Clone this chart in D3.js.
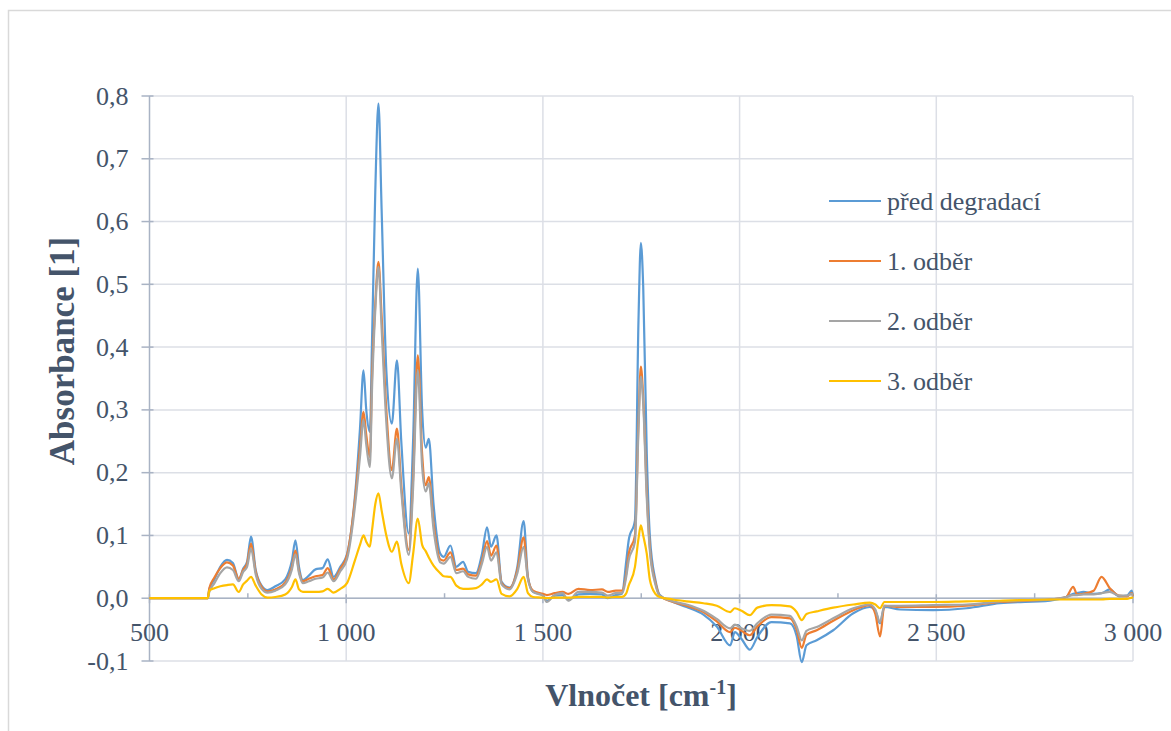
<!DOCTYPE html>
<html lang="cs">
<head>
<meta charset="UTF-8">
<title>Absorbance</title>
<script src="https://d3js.org/d3.v7.min.js"></script>
<style>
    body { margin: 0; background: #fff; }
    svg { display: block; }
    svg text { font-family: "Liberation Serif", "Tinos", "Times New Roman", "DejaVu Serif", serif; fill: #44546a; }
    .tick-label { font-size: 26px; }
    .axis-title { font-size: 32px; font-weight: bold; }
    .legend-text { font-size: 26px; }
</style>
</head>
<body>
<svg id="chart" width="1171" height="731"></svg>
<script>
// wavenumbers [cm-1]
const wavenumbers = [500, 648, 652, 665, 680, 697, 712, 727, 738, 748, 758, 770, 785, 800, 820, 845, 862, 871, 880, 890,
    905, 922, 940, 953, 968, 985, 1002, 1022, 1035, 1044, 1051, 1060, 1066, 1074, 1082, 1090, 1102, 1116, 1129, 1140,
    1159, 1170, 1182, 1193, 1202, 1210, 1222, 1239, 1248, 1265, 1280, 1297, 1310, 1330, 1345, 1358, 1368, 1382, 1395, 1415,
    1435, 1451, 1462, 1475, 1500, 1510, 1530, 1550, 1565, 1590, 1620, 1650, 1665, 1685, 1701, 1712, 1718, 1734, 1743, 1749,
    1755, 1764, 1772, 1786, 1797, 1831, 1865, 1908, 1942, 1976, 1988, 2005, 2026, 2045, 2081, 2128, 2145, 2158, 2170, 2196,
    2238, 2289, 2331, 2345, 2357, 2368, 2408, 2492, 2577, 2662, 2789, 2830, 2848, 2858, 2874, 2900, 2920, 2941, 2965, 2985,
    2997, 3000];

const predDegradaci = [0, 0, 0.014, 0.030, 0.050, 0.061, 0.056, 0.030, 0.047, 0.058, 0.098, 0.045, 0.020, 0.013, 0.019, 0.030, 0.060, 0.092, 0.050, 0.029,
    0.036, 0.046, 0.048, 0.062, 0.034, 0.050, 0.070, 0.161, 0.270, 0.363, 0.300, 0.265, 0.420, 0.650, 0.788, 0.620, 0.363, 0.278, 0.379, 0.250,
    0.103, 0.250, 0.525, 0.300, 0.240, 0.254, 0.150, 0.071, 0.066, 0.084, 0.050, 0.058, 0.042, 0.040, 0.070, 0.113, 0.082, 0.100, 0.026, 0.017,
    0.050, 0.123, 0.034, 0.010, 0.005, -0.004, 0.004, 0.005, -0.003, 0.006, 0.007, 0.006, 0.000, 0.005, 0.007, 0.060, 0.092, 0.124, 0.443, 0.566,
    0.496, 0.231, 0.098, 0.029, 0.005, -0.006, -0.014, -0.026, -0.045, -0.075, -0.054, -0.065, -0.082, -0.062, -0.038, -0.040, -0.060, -0.102, -0.075, -0.067,
    -0.051, -0.024, -0.014, -0.020, -0.040, -0.014, -0.018, -0.019, -0.016, -0.008, -0.004, 0.002, 0.007, 0.008, 0.010, 0.007, 0.008, 0.014, 0.003, 0.004,
    0.012, 0.003];

const odber1 = [0, 0, 0.016, 0.033, 0.048, 0.057, 0.052, 0.031, 0.045, 0.055, 0.087, 0.042, 0.018, 0.011, 0.014, 0.025, 0.050, 0.076, 0.043, 0.027,
    0.031, 0.035, 0.037, 0.048, 0.030, 0.047, 0.068, 0.155, 0.240, 0.297, 0.260, 0.225, 0.360, 0.470, 0.536, 0.450, 0.300, 0.204, 0.270, 0.180,
    0.077, 0.190, 0.387, 0.230, 0.180, 0.193, 0.120, 0.062, 0.060, 0.073, 0.045, 0.047, 0.038, 0.036, 0.060, 0.091, 0.068, 0.084, 0.024, 0.016,
    0.045, 0.097, 0.032, 0.012, 0.007, 0.005, 0.008, 0.010, 0.007, 0.015, 0.013, 0.014, 0.010, 0.012, 0.012, 0.040, 0.070, 0.100, 0.280, 0.369,
    0.320, 0.170, 0.080, 0.025, 0.004, -0.006, -0.012, -0.022, -0.037, -0.054, -0.047, -0.052, -0.059, -0.045, -0.030, -0.032, -0.050, -0.079, -0.058, -0.051,
    -0.036, -0.019, -0.011, -0.025, -0.061, -0.012, -0.014, -0.014, -0.012, -0.006, -0.002, 0.002, 0.018, 0.006, 0.007, 0.012, 0.034, 0.016, 0.004, 0.003,
    0.008, 0.003];

const odber2 = [0, 0, 0.010, 0.024, 0.040, 0.049, 0.045, 0.027, 0.042, 0.050, 0.079, 0.038, 0.015, 0.009, 0.012, 0.022, 0.046, 0.070, 0.040, 0.024,
    0.027, 0.031, 0.033, 0.041, 0.027, 0.043, 0.062, 0.145, 0.225, 0.284, 0.245, 0.209, 0.340, 0.460, 0.528, 0.430, 0.280, 0.191, 0.254, 0.170,
    0.069, 0.175, 0.363, 0.210, 0.170, 0.183, 0.110, 0.057, 0.055, 0.066, 0.040, 0.043, 0.034, 0.031, 0.055, 0.082, 0.060, 0.073, 0.022, 0.014,
    0.040, 0.082, 0.030, 0.010, 0.004, -0.006, 0.005, 0.008, -0.004, 0.010, 0.010, 0.009, 0.004, 0.008, 0.008, 0.035, 0.060, 0.090, 0.270, 0.353,
    0.310, 0.160, 0.075, 0.022, 0.004, -0.005, -0.010, -0.020, -0.033, -0.048, -0.042, -0.048, -0.052, -0.040, -0.026, -0.028, -0.045, -0.067, -0.052, -0.046,
    -0.032, -0.016, -0.010, -0.018, -0.038, -0.012, -0.012, -0.011, -0.010, -0.005, -0.002, 0.002, 0.005, 0.005, 0.006, 0.006, 0.008, 0.010, 0.004, 0.004,
    0.007, 0.004];

const odber3 = [0, 0, 0.012, 0.016, 0.019, 0.021, 0.022, 0.010, 0.022, 0.028, 0.034, 0.020, 0.006, 0.001, 0.002, 0.006, 0.018, 0.030, 0.014, 0.010,
    0.010, 0.010, 0.011, 0.015, 0.009, 0.015, 0.024, 0.060, 0.085, 0.100, 0.090, 0.082, 0.110, 0.150, 0.167, 0.140, 0.100, 0.074, 0.090, 0.055,
    0.024, 0.070, 0.127, 0.085, 0.075, 0.065, 0.052, 0.040, 0.035, 0.034, 0.020, 0.015, 0.015, 0.016, 0.022, 0.030, 0.026, 0.030, 0.007, 0.003,
    0.015, 0.034, 0.008, 0.002, 0.001, 0.000, 0.001, 0.001, 0.001, 0.002, 0.002, 0.002, 0.001, 0.002, 0.002, 0.008, 0.020, 0.050, 0.095, 0.116,
    0.100, 0.071, 0.029, 0.007, 0.002, -0.002, -0.005, -0.008, -0.012, -0.022, -0.016, -0.020, -0.027, -0.015, -0.011, -0.013, -0.022, -0.035, -0.025, -0.021,
    -0.015, -0.010, -0.007, -0.010, -0.016, -0.006, -0.006, -0.006, -0.005, -0.004, -0.002, -0.002, -0.002, -0.002, -0.002, -0.002, -0.002, -0.001, -0.001, -0.001,
    0.001, 0.000];

const seriesNames = ["před degradací", "1. odběr", "2. odběr", "3. odběr"];
const seriesColors = ["#5b9bd5", "#ed7d31", "#a5a5a5", "#ffc000"];
const seriesValues = [predDegradaci, odber1, odber2, odber3];

const xTicks = [500, 1000, 1500, 2000, 2500, 3000];
const xMinorTicks = [750, 1250, 1750, 2250, 2750];
const yTicks = [-0.1, 0, 0.1, 0.2, 0.3, 0.4, 0.5, 0.6, 0.7, 0.8];

const svg = d3.select("#chart");
const margin = {top: 96, right: 38, bottom: 70, left: 149.5};
const width = 1133 - margin.left;
const height = 661 - margin.top;

// outer chart border
svg.append("rect")
    .attr("x", 8.5).attr("y", 10.5)
    .attr("width", 1200).attr("height", 800)
    .attr("fill", "none").attr("stroke", "#d9d9d9").attr("stroke-width", 1.5);

const x = d3.scaleLinear().domain([500, 3000]).range([0, width]);
const y = d3.scaleLinear().domain([-0.1, 0.8]).range([height, 0]);

const g = svg.append("g").attr("transform", `translate(${margin.left},${margin.top})`);

const fmtX = d => String(d).replace(/(\d)(\d{3})$/, "$1 $2");
const fmtY = d => d.toFixed(1).replace(".", ",");

// grid
g.append("g").selectAll("line").data(yTicks).join("line")
    .attr("x1", 0).attr("x2", width)
    .attr("y1", d => y(d)).attr("y2", d => y(d))
    .attr("stroke", "#dcdfe6").attr("stroke-width", 1.5);
g.append("g").selectAll("line").data(xTicks.slice(1)).join("line")
    .attr("x1", d => x(d)).attr("x2", d => x(d))
    .attr("y1", 0).attr("y2", height)
    .attr("stroke", "#dcdfe6").attr("stroke-width", 1.5);

// y axis
g.append("line").attr("x1", 0).attr("x2", 0).attr("y1", 0).attr("y2", height)
    .attr("stroke", "#a9b3c4").attr("stroke-width", 1.5);
g.append("g").selectAll("line").data(yTicks).join("line")
    .attr("x1", -8).attr("x2", 4)
    .attr("y1", d => y(d)).attr("y2", d => y(d))
    .attr("stroke", "#a9b3c4").attr("stroke-width", 1.5);
g.append("g").selectAll("text").data(yTicks).join("text")
    .attr("class", "tick-label")
    .attr("x", -21).attr("y", d => y(d)).attr("dy", "0.33em")
    .attr("text-anchor", "end")
    .text(fmtY);

// x axis at zero
g.append("line").attr("x1", 0).attr("x2", width).attr("y1", y(0)).attr("y2", y(0))
    .attr("stroke", "#a9b3c4").attr("stroke-width", 1.5);
g.append("g").selectAll("line").data(xTicks).join("line")
    .attr("x1", d => x(d)).attr("x2", d => x(d))
    .attr("y1", y(0) - 4).attr("y2", y(0) + 5)
    .attr("stroke", "#a9b3c4").attr("stroke-width", 1.5);
g.append("g").selectAll("line").data(xMinorTicks).join("line")
    .attr("x1", d => x(d)).attr("x2", d => x(d))
    .attr("y1", y(0) - 5).attr("y2", y(0))
    .attr("stroke", "#a9b3c4").attr("stroke-width", 1.5);
g.append("g").selectAll("text").data(xTicks).join("text")
    .attr("class", "tick-label")
    .attr("x", d => x(d)).attr("y", y(0) + 43)
    .attr("text-anchor", "middle")
    .text(fmtX);

// series (drawn over the axis and its labels, like the original)
const line = d3.line()
    .x((d, i) => x(wavenumbers[i]))
    .y(d => y(d))
    .curve(d3.curveMonotoneX);

seriesValues.forEach((vals, i) => {
    g.append("path")
        .datum(vals)
        .attr("fill", "none")
        .attr("stroke", seriesColors[i])
        .attr("stroke-width", 2.2)
        .attr("stroke-linejoin", "round")
        .attr("d", line);
});

// axis titles
svg.append("text")
    .attr("class", "axis-title")
    .attr("font-size", "35px")
    .attr("transform", "translate(74,351) rotate(-90)")
    .attr("text-anchor", "middle")
    .style("font-size", "35px")
    .text("Absorbance [1]");

const xt = svg.append("text")
    .attr("class", "axis-title")
    .attr("x", 641).attr("y", 706)
    .attr("text-anchor", "middle");
xt.append("tspan").text("Vlnočet [cm");
xt.append("tspan").attr("dy", -12).style("font-size", "20px").text("-1");
xt.append("tspan").attr("dy", 12).text("]");

// legend
const legend = svg.append("g").attr("transform", "translate(829,201)");
const items = legend.selectAll("g").data(seriesNames).join("g")
    .attr("transform", (d, i) => `translate(0,${i * 60})`);
items.append("line")
    .attr("x1", 0).attr("x2", 52).attr("y1", 0).attr("y2", 0)
    .attr("stroke", (d, i) => seriesColors[i]).attr("stroke-width", 2.2);
items.append("text")
    .attr("class", "legend-text")
    .attr("x", 58).attr("y", 0).attr("dy", "0.33em")
    .text(d => d);
</script>
</body>
</html>
